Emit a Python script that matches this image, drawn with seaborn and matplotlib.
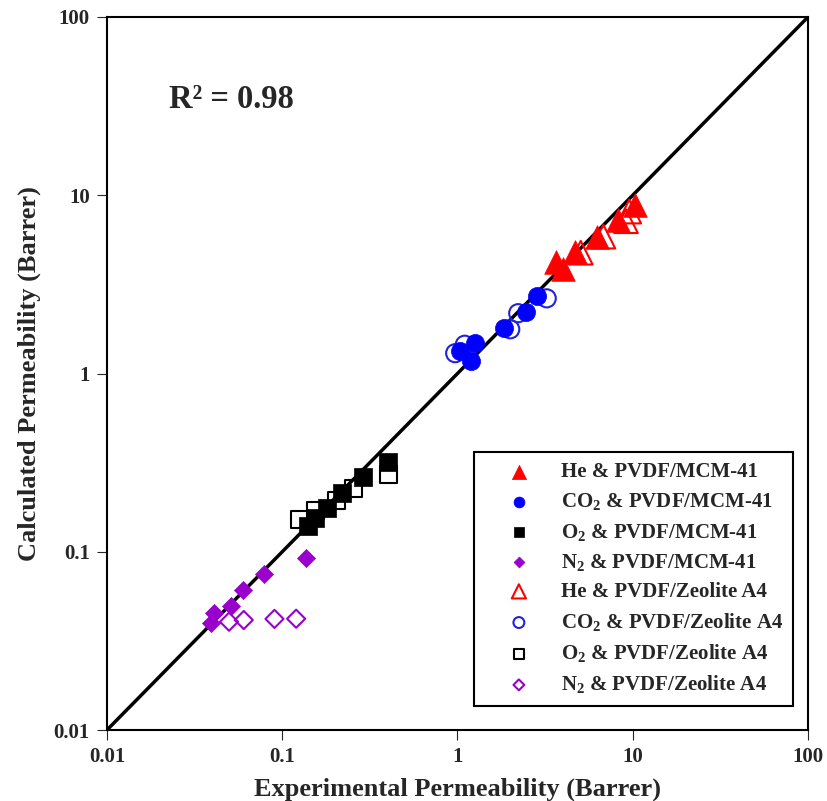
import numpy as np
import pandas as pd
import matplotlib
matplotlib.use("Agg")
import matplotlib.pyplot as plt
import seaborn as sns
from matplotlib.ticker import FixedLocator, FixedFormatter, NullLocator

# ---------------- data ----------------
he_mcm_exp = [3.63, 3.98, 4.68, 6.22, 8.27, 10.3]
he_mcm_calc = [4.24, 3.84, 4.82, 5.86, 7.26, 8.81]
co2_mcm_exp = [2.83, 2.46, 1.84, 1.26, 1.04, 1.20]
co2_mcm_calc = [2.73, 2.20, 1.79, 1.48, 1.33, 1.17]
o2_mcm_exp = [0.403, 0.290, 0.218, 0.181, 0.154, 0.141]
o2_mcm_calc = [0.320, 0.264, 0.214, 0.175, 0.154, 0.139]
n2_mcm_exp = [0.137, 0.0789, 0.0600, 0.0508, 0.0406, 0.0394]
n2_mcm_calc = [0.0923, 0.0750, 0.0609, 0.0498, 0.0451, 0.0398]

he_zeo_exp = [5.05, 6.80, 9.15, 9.55]
he_zeo_calc = [4.76, 5.86, 7.15, 8.10]
co2_zeo_exp = [3.23, 2.22, 2.00, 1.10, 0.97]
co2_zeo_calc = [2.64, 2.18, 1.77, 1.45, 1.30]
o2_zeo_exp = [0.403, 0.254, 0.205, 0.154, 0.125]
o2_zeo_calc = [0.270, 0.227, 0.195, 0.170, 0.152]
n2_zeo_exp = [0.120, 0.0903, 0.0603, 0.0497]
n2_zeo_calc = [0.0421, 0.0420, 0.0414, 0.0405]

series_labels = [
    "He & PVDF/MCM-41", "CO$_2$ & PVDF/MCM-41", "O$_2$ & PVDF/MCM-41", "N$_2$ & PVDF/MCM-41",
    "He & PVDF/Zeolite A4", "CO$_2$ & PVDF/Zeolite A4", "O$_2$ & PVDF/Zeolite A4", "N$_2$ & PVDF/Zeolite A4",
]
tick_values = [0.01, 0.1, 1, 10, 100]
tick_labels = ["0.01", "0.1", "1", "10", "100"]
r2_text = "R² = 0.98"
x_label = "Experimental Permeability (Barrer)"
y_label = "Calculated Permeability (Barrer)"

# ---------------- style ----------------
sns.set_style("ticks")
plt.rcParams["font.family"] = ["Liberation Serif", "DejaVu Serif"]
plt.rcParams["font.weight"] = "bold"
plt.rcParams["mathtext.fontset"] = "custom"
plt.rcParams["mathtext.rm"] = "Liberation Serif:bold"
plt.rcParams["mathtext.it"] = "Liberation Serif:bold"
plt.rcParams["mathtext.bf"] = "Liberation Serif:bold"

fig = plt.figure(figsize=(8.28, 8.01), dpi=100)
ax = fig.add_axes([107 / 828, 1 - 730 / 801, 701 / 828, 713 / 801])

# diagonal line
ax.plot(tick_values, tick_values, color="black", lw=2.5, zorder=1)

series = [
    (he_mcm_exp, he_mcm_calc, "^", "#ff0000", True, 290),
    (co2_mcm_exp, co2_mcm_calc, "o", "#0000ff", True, 170),
    (o2_mcm_exp, o2_mcm_calc, "s", "#000000", True, 150),
    (n2_mcm_exp, n2_mcm_calc, "D", "#9900cc", True, 85),
    (he_zeo_exp, he_zeo_calc, "^", "#ff0000", False, 290),
    (co2_zeo_exp, co2_zeo_calc, "o", "#2222dd", False, 170),
    (o2_zeo_exp, o2_zeo_calc, "s", "#000000", False, 150),
    (n2_zeo_exp, n2_zeo_calc, "D", "#9900cc", False, 85),
]

handles = []
for (xs, ys, mk, col, filled, size), lab in zip(series, series_labels):
    df = pd.DataFrame({"x": xs, "y": ys})
    if filled:
        sns.scatterplot(data=df, x="x", y="y", marker=mk, s=size, facecolor=col,
                        edgecolor=col, linewidth=0.5, ax=ax, zorder=3, legend=False)
    else:
        sns.scatterplot(data=df, x="x", y="y", marker=mk, s=size, facecolor="none",
                        edgecolor=col, linewidth=1.5, ax=ax, zorder=2, legend=False)
    handles.append(ax.collections[-1])

ax.set_xscale("log")
ax.set_yscale("log")
ax.set_xlim(0.01, 100)
ax.set_ylim(0.01, 100)
for axis in (ax.xaxis, ax.yaxis):
    axis.set_major_locator(FixedLocator(tick_values))
    axis.set_major_formatter(FixedFormatter(tick_labels))
    axis.set_minor_locator(NullLocator())

ax.tick_params(axis="both", which="major", direction="out", length=7.5, width=0.8,
               labelsize=15, pad=5, top=False, right=False)
for sp in ax.spines.values():
    sp.set_linewidth(1.5)
    sp.set_color("black")

ax.set_xlabel(x_label, fontsize=19, fontweight="bold", labelpad=7)
ax.set_ylabel(y_label, fontsize=19, fontweight="bold", labelpad=9)

fig.text(169 / 828, 1 - 108 / 801, r2_text, fontsize=23.5, fontweight="bold",
         ha="left", va="baseline")

leg = ax.legend(handles, series_labels, loc="lower right", bbox_to_anchor=(0.979, 0.034),
                borderaxespad=0, frameon=True, fancybox=False, markerscale=0.6,
                fontsize=15, handlelength=3.3, handletextpad=0.35, labelspacing=0.44,
                borderpad=0.5, scatterpoints=1)
leg.get_frame().set_edgecolor("black")
leg.get_frame().set_linewidth(1.5)
leg.get_frame().set_alpha(1)

fig.savefig("out.png", dpi=100)
